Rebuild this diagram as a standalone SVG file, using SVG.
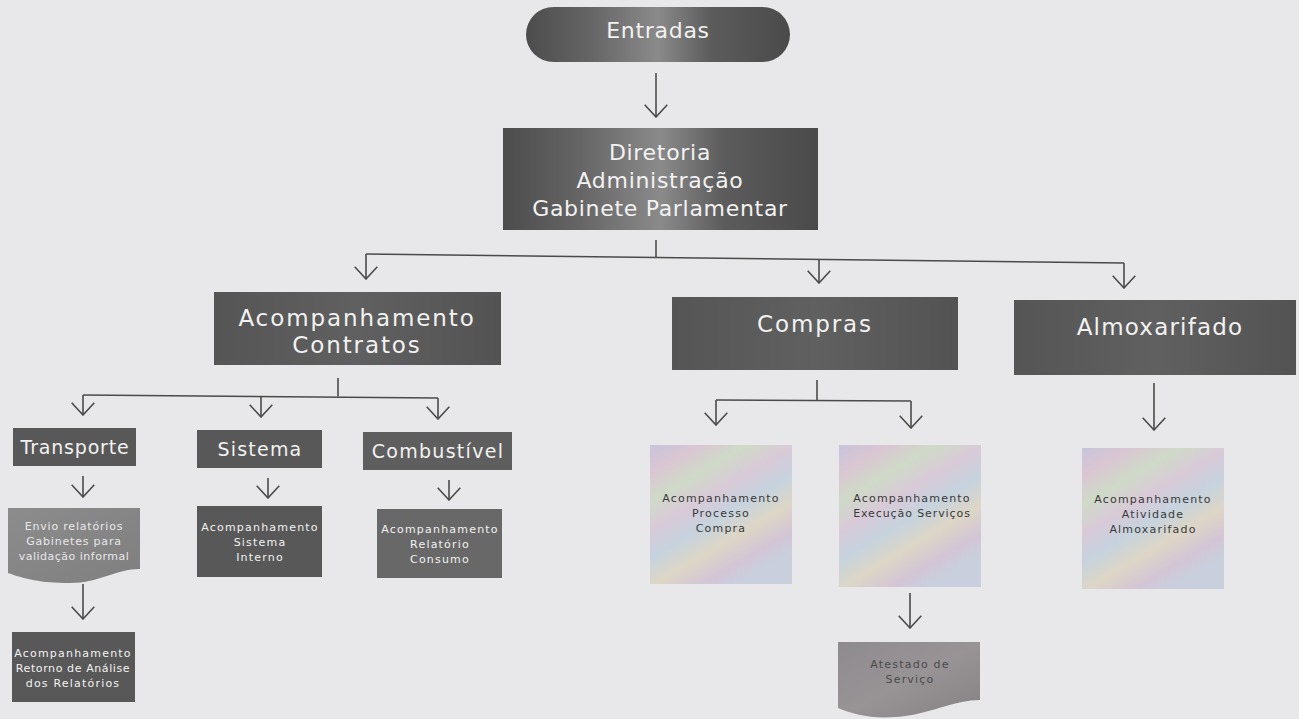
<svg xmlns="http://www.w3.org/2000/svg" width="1299" height="719" viewBox="0 0 1299 719">
<defs>
<style>
.t{font-family:"DejaVu Sans","Liberation Sans",sans-serif;text-anchor:middle;fill:#f2f2f2}
.big{font-size:22px;letter-spacing:0.7px}
.mid{font-size:23px;letter-spacing:1.9px}
.hd{font-size:19px;letter-spacing:1px}
.sm{font-size:11px;letter-spacing:1.2px}
.dk{fill:#3a3a3a}
.lt{fill:#e8e8e8}
.c{fill:none;stroke:#4a4a4a;stroke-width:1.6}
</style>
<marker id="arr" viewBox="0 0 14 24" markerWidth="14" markerHeight="24" refX="13" refY="12" markerUnits="userSpaceOnUse" orient="auto">
<path d="M0.7,0.7 L13,12 L0.7,23.3" fill="none" stroke="#4a4a4a" stroke-width="1.6"/>
</marker>
<linearGradient id="metal" x1="0" y1="0" x2="1" y2="0">
<stop offset="0" stop-color="#4c4c4c"/>
<stop offset="0.25" stop-color="#666"/>
<stop offset="0.5" stop-color="#8a8a8a"/>
<stop offset="0.7" stop-color="#5c5c5c"/>
<stop offset="1" stop-color="#4a4a4a"/>
</linearGradient>
<linearGradient id="dark" x1="0" y1="0" x2="1" y2="0">
<stop offset="0" stop-color="#555"/>
<stop offset="0.5" stop-color="#606060"/>
<stop offset="1" stop-color="#535353"/>
</linearGradient>
<linearGradient id="grayDoc" x1="0" y1="0" x2="1" y2="1">
<stop offset="0" stop-color="#8c8c8d"/>
<stop offset="1" stop-color="#7f7f80"/>
</linearGradient>
<linearGradient id="mauve" x1="0" y1="0" x2="1" y2="1">
<stop offset="0" stop-color="#8e8b8f"/>
<stop offset="0.5" stop-color="#989395"/>
<stop offset="1" stop-color="#858284"/>
</linearGradient>
<linearGradient id="pastel" x1="0" y1="0" x2="0.6" y2="1">
<stop offset="0" stop-color="#c8c4da"/>
<stop offset="0.15" stop-color="#dac6d3"/>
<stop offset="0.3" stop-color="#cfdac8"/>
<stop offset="0.45" stop-color="#d9cad8"/>
<stop offset="0.6" stop-color="#c6d3de"/>
<stop offset="0.75" stop-color="#ddd6c6"/>
<stop offset="0.9" stop-color="#d3c5d6"/>
<stop offset="1" stop-color="#c9cfdc"/>
</linearGradient>
</defs>
<rect x="0" y="0" width="1299" height="719" fill="#e8e8ea"/>

<g id="connectors" class="c">
<path d="M656,73 V117" marker-end="url(#arr)"/>
<path d="M656,240 V257"/>
<path d="M366,254 L1124,263"/>
<path d="M366,254 V279" marker-end="url(#arr)"/>
<path d="M819,259.5 V283" marker-end="url(#arr)"/>
<path d="M1124,263 V288" marker-end="url(#arr)"/>
<path d="M338,378 V396.5"/>
<path d="M83,395 L438,398"/>
<path d="M83,395 V415" marker-end="url(#arr)"/>
<path d="M261,396.5 V417" marker-end="url(#arr)"/>
<path d="M438,398 V419" marker-end="url(#arr)"/>
<path d="M817,380 V400.5"/>
<path d="M716,400 L911,401"/>
<path d="M716,400 V425" marker-end="url(#arr)"/>
<path d="M911,401 V428" marker-end="url(#arr)"/>
<path d="M1154,383 V430" marker-end="url(#arr)"/>
<path d="M83,476 V497" marker-end="url(#arr)"/>
<path d="M268,478 V498" marker-end="url(#arr)"/>
<path d="M449,480 V500" marker-end="url(#arr)"/>
<path d="M83,584 V619" marker-end="url(#arr)"/>
<path d="M910,593 V628" marker-end="url(#arr)"/>
</g>

<g id="entradas">
<rect x="526" y="7" width="264" height="55" rx="27.5" fill="url(#metal)"/>
<text class="t big" x="658" y="38">Entradas</text>
</g>

<g id="diretoria">
<rect x="503" y="128" width="315" height="102" fill="url(#metal)"/>
<text class="t big" x="660" y="160">Diretoria</text>
<text class="t big" x="660" y="188">Administração</text>
<text class="t big" x="660" y="216">Gabinete Parlamentar</text>
</g>

<g id="acomp-contratos">
<rect x="214" y="292" width="287" height="73" fill="url(#dark)"/>
<text class="t mid" x="357" y="326">Acompanhamento</text>
<text class="t mid" x="357" y="353">Contratos</text>
</g>

<g id="compras">
<rect x="672" y="297" width="286" height="73" fill="url(#dark)"/>
<text class="t mid" x="815" y="332">Compras</text>
</g>

<g id="almoxarifado">
<rect x="1014" y="300" width="282" height="75" fill="url(#dark)"/>
<text class="t mid" x="1160" y="335" style="letter-spacing:1.2px">Almoxarifado</text>
</g>

<g id="transporte">
<rect x="13" y="428" width="123" height="38" fill="#585858"/>
<text class="t hd" x="75" y="454" style="letter-spacing:0.8px">Transporte</text>
</g>

<g id="sistema">
<rect x="197" y="430" width="125" height="38" fill="#585858"/>
<text class="t hd" x="260" y="456" style="letter-spacing:1.2px">Sistema</text>
</g>

<g id="combustivel">
<rect x="363" y="432" width="149" height="38" fill="#5e5e5e"/>
<text class="t hd" x="438" y="458" style="letter-spacing:1.3px">Combustível</text>
</g>

<g id="envio">
<path d="M8,508 H140 V569 C115,569 100,583 70,583 C40,583 25,579 8,573 Z" fill="url(#grayDoc)"/>
<text class="t sm lt" x="74" y="530" style="letter-spacing:0.8px">Envio relatórios</text>
<text class="t sm lt" x="74" y="545" style="letter-spacing:0.8px">Gabinetes para</text>
<text class="t sm lt" x="74" y="560" style="letter-spacing:0.5px">validação informal</text>
</g>

<g id="acomp-sistema">
<rect x="197" y="506" width="125" height="71" fill="#585858"/>
<text class="t sm" x="260" y="531">Acompanhamento</text>
<text class="t sm" x="260" y="546">Sistema</text>
<text class="t sm" x="260" y="561">Interno</text>
</g>

<g id="acomp-consumo">
<rect x="377" y="509" width="125" height="69" fill="#686868"/>
<text class="t sm" x="440" y="533">Acompanhamento</text>
<text class="t sm" x="440" y="548">Relatório</text>
<text class="t sm" x="440" y="563">Consumo</text>
</g>

<g id="acomp-retorno">
<rect x="12" y="632" width="123" height="70" fill="#585858"/>
<text class="t sm" x="73" y="657">Acompanhamento</text>
<text class="t sm" x="73" y="672" style="letter-spacing:0.6px">Retorno de Análise</text>
<text class="t sm" x="73" y="687">dos Relatórios</text>
</g>

<g id="acomp-compra">
<rect x="650" y="445" width="142" height="139" fill="url(#pastel)"/>
<text class="t sm dk" x="721" y="502">Acompanhamento</text>
<text class="t sm dk" x="721" y="517">Processo</text>
<text class="t sm dk" x="721" y="532">Compra</text>
</g>

<g id="acomp-execucao">
<rect x="839" y="445" width="142" height="142" fill="url(#pastel)"/>
<text class="t sm dk" x="912" y="502">Acompanhamento</text>
<text class="t sm dk" x="912" y="517" style="letter-spacing:0.9px">Execução Serviços</text>
</g>

<g id="atestado">
<path d="M838,642 H980 V700 C955,700 935,712 905,716 C875,720 855,715 838,708 Z" fill="url(#mauve)"/>
<text class="t sm dk" x="910" y="668" style="fill:#4a4a4a">Atestado de</text>
<text class="t sm dk" x="910" y="683" style="fill:#4a4a4a">Serviço</text>
</g>

<g id="acomp-almox">
<rect x="1082" y="448" width="142" height="141" fill="url(#pastel)"/>
<text class="t sm dk" x="1153" y="503">Acompanhamento</text>
<text class="t sm dk" x="1153" y="518">Atividade</text>
<text class="t sm dk" x="1153" y="533">Almoxarifado</text>
</g>
</svg>
